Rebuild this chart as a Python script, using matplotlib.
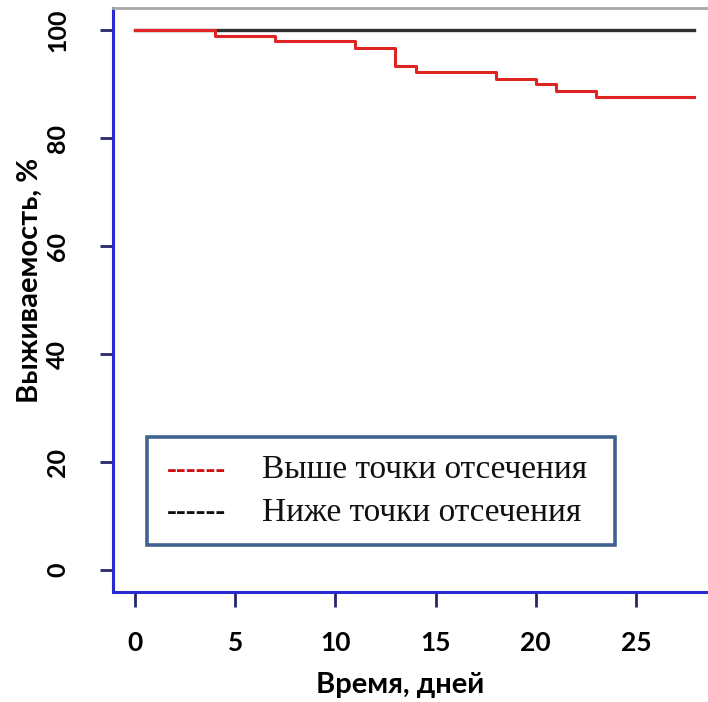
import matplotlib
matplotlib.use("Agg")
import matplotlib.pyplot as plt
from matplotlib.patches import Rectangle

# Kaplan-Meier style survival steps
days_above = [0, 4, 7, 11, 13, 14, 18, 20, 21, 23, 27.9]
surv_above = [100, 98.9, 97.9, 96.7, 93.3, 92.3, 91.0, 90.0, 88.8, 87.6, 87.6]
days_below = [0, 27.9]
surv_below = [100, 100]

x_ticks = [0, 5, 10, 15, 20, 25]
y_ticks = [0, 20, 40, 60, 80, 100]
legend_labels = ["Выше точки отсечения", "Ниже точки отсечения"]

fig = plt.figure(figsize=(7.08, 7.02), dpi=100)
ax = fig.add_axes([113 / 708, 1 - 592 / 702, 1 - 113 / 708, (592 - 8) / 702])

ax.step(days_below, surv_below, where="post", color="#303030", lw=2.4)
ax.step(days_above, surv_above, where="post", color="#e02424", lw=2.2)

ax.set_xlim(-1.1, 28.6)
ax.set_ylim(-4.07, 104.1)

ax.set_xticks(x_ticks)
ax.set_yticks(y_ticks)

for side in ["left", "bottom"]:
    ax.spines[side].set_color("#2a2ad0")
    ax.spines[side].set_linewidth(2.2)
ax.spines["top"].set_color("#a8a8a8")
ax.spines["top"].set_linewidth(2)
ax.spines["right"].set_visible(False)

ax.tick_params(axis="y", direction="out", length=9.5, width=2, color="#26266a",
               pad=22, labelsize=18, labelrotation=90)
ax.tick_params(axis="x", direction="out", length=11, width=2, color="#26266a",
               pad=17, labelsize=19)
for lab in ax.get_yticklabels():
    lab.set_verticalalignment("center")
for lab in ax.get_xticklabels() + ax.get_yticklabels():
    lab.set_fontfamily("Lato")
    lab.set_fontweight("bold")

fig.text(400 / 708, 1 - 685 / 702, "Время, дней", ha="center", va="center",
         fontsize=21, fontweight="bold", family="Lato")
fig.text(30 / 708, 1 - 280 / 702, "Выживаемость, %", ha="center", va="center",
         rotation=90, fontsize=21, fontweight="bold", family="Lato")

# legend drawn as a framed box with dashed text keys
box = Rectangle((147 / 708, 1 - 545 / 702), (615 - 147) / 708, (545 - 437) / 702,
                transform=fig.transFigure, facecolor="white", edgecolor="#3f6291",
                lw=2.6, zorder=5)
fig.patches.append(box)
key_colors = ["#d01010", "#101010"]
row_y = [470, 513]
for lab, col, yy in zip(legend_labels, key_colors, row_y):
    fig.text(167 / 708, 1 - yy / 702, "------", color=col, fontsize=21,
             fontweight="bold", family="Liberation Serif", va="center",
             ha="left", zorder=6)
    fig.text(262 / 708, 1 - yy / 702, lab, color="#111111", fontsize=24,
             family="Liberation Serif", va="center", ha="left", zorder=6)

fig.savefig("out.png", dpi=100)
